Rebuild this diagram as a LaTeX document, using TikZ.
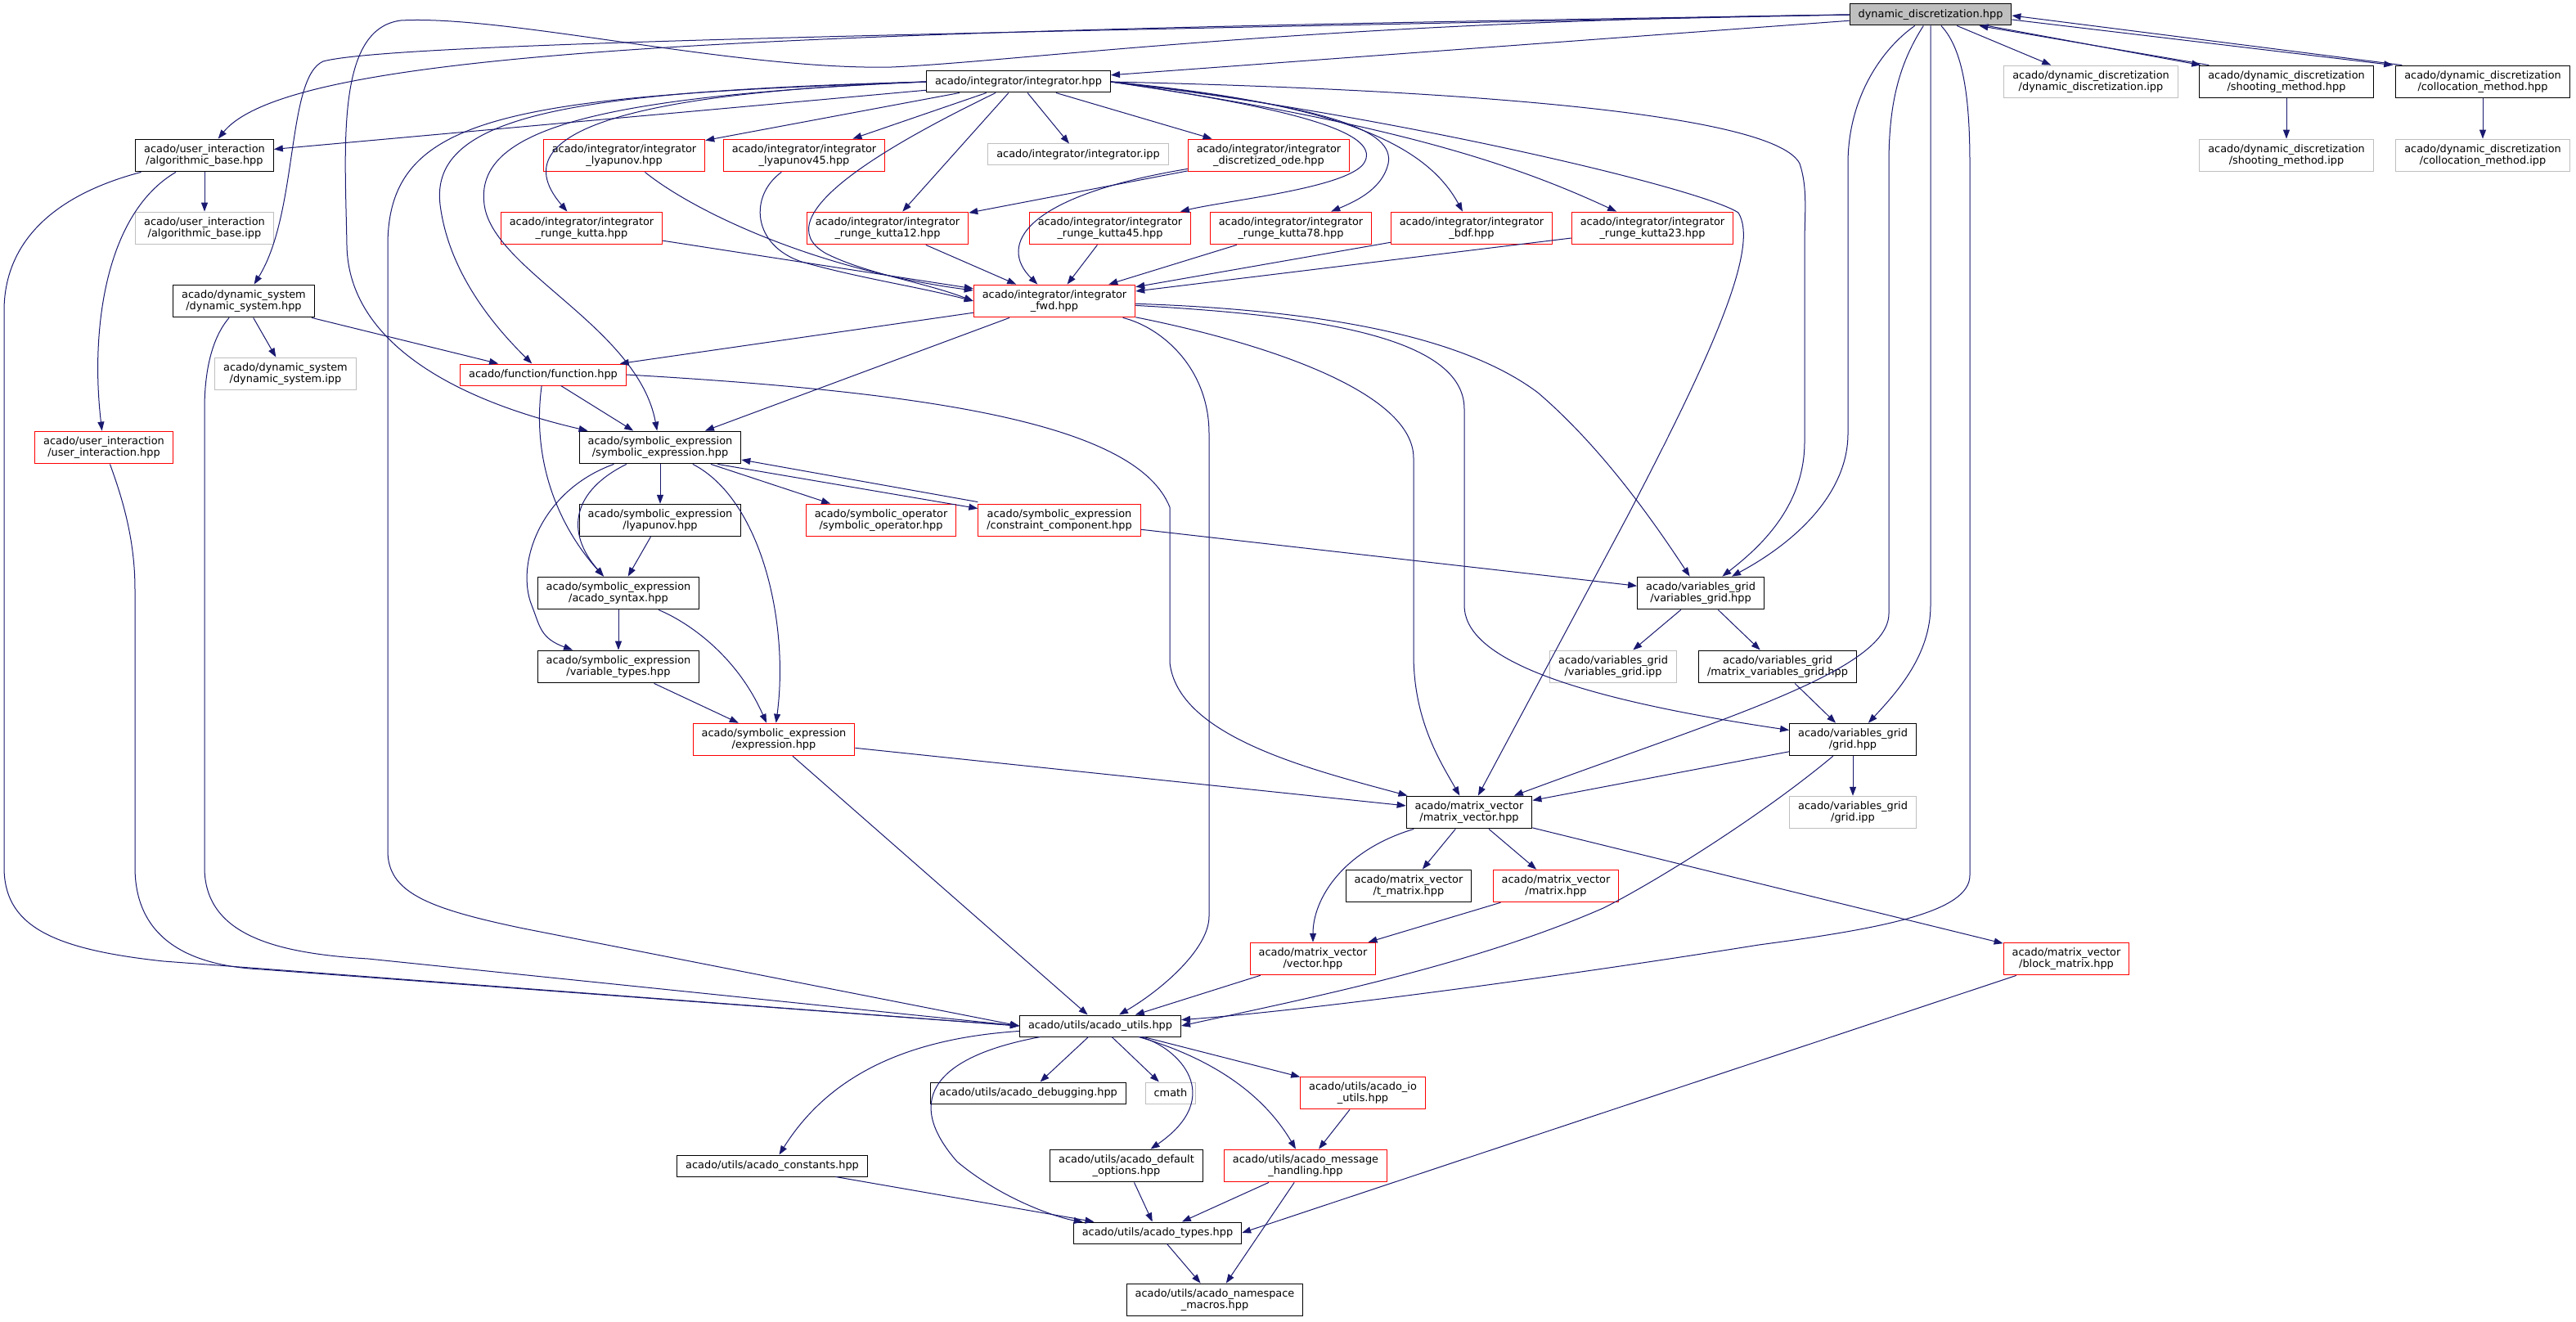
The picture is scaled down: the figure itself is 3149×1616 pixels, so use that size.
\documentclass[tikz,border=0pt]{standalone}
\usepackage{fontspec}
\setmainfont{DejaVu Sans}
\usetikzlibrary{arrows.meta}
\definecolor{edgeblue}{HTML}{191970}
\definecolor{boxred}{HTML}{FF0000}
\definecolor{boxgray}{HTML}{BFBFBF}

\begin{document}
\begin{tikzpicture}[x=1pt,y=-1pt,font=\fontsize{12.9}{14.4}\selectfont,
  file/.style={draw=black,line width=1pt,fill=white,align=center,inner xsep=10.5pt,inner ysep=6.3pt,minimum height=26pt},
  redfile/.style={file,draw=boxred},
  ipp/.style={file,draw=boxgray},
  mainfile/.style={file,fill=boxgray},
  inc/.style={draw=edgeblue,line width=1pt,-{Triangle[length=11pt,width=8pt]}}]
  \path[fill=white,use as bounding box] (0,0) rectangle (3149,1616);
  % top
  \node[mainfile] (dd) at (2360,18) {dynamic\_discretization.hpp};
  \node[ipp] (ddipp) at (2556,100) {acado/dynamic\_discretization\\/dynamic\_discretization.ipp};
  \node[file] (shoot) at (2795,100) {acado/dynamic\_discretization\\/shooting\_method.hpp};
  \node[file] (colloc) at (3035,100) {acado/dynamic\_discretization\\/collocation\_method.hpp};
  \node[ipp] (shootipp) at (2795,190) {acado/dynamic\_discretization\\/shooting\_method.ipp};
  \node[ipp] (collocipp) at (3035,190) {acado/dynamic\_discretization\\/collocation\_method.ipp};
  \node[file] (integ) at (1245,100) {acado/integrator/integrator.hpp};
  % integrators
  \node[file] (algb) at (250,190) {acado/user\_interaction\\/algorithmic\_base.hpp};
  \node[ipp] (algbipp) at (250,279) {acado/user\_interaction\\/algorithmic\_base.ipp};
  \node[redfile] (ilyap) at (763,190) {acado/integrator/integrator\\\_lyapunov.hpp};
  \node[redfile] (ilyap45) at (983,190) {acado/integrator/integrator\\\_lyapunov45.hpp};
  \node[ipp] (integipp) at (1318,189) {acado/integrator/integrator.ipp};
  \node[redfile] (dode) at (1551,190) {acado/integrator/integrator\\\_discretized\_ode.hpp};
  \node[redfile] (rk) at (711,279) {acado/integrator/integrator\\\_runge\_kutta.hpp};
  \node[redfile] (rk12) at (1085,279) {acado/integrator/integrator\\\_runge\_kutta12.hpp};
  \node[redfile] (rk45) at (1357,279) {acado/integrator/integrator\\\_runge\_kutta45.hpp};
  \node[redfile] (rk78) at (1578,279) {acado/integrator/integrator\\\_runge\_kutta78.hpp};
  \node[redfile] (bdf) at (1799,279) {acado/integrator/integrator\\\_bdf.hpp};
  \node[redfile] (rk23) at (2020,279) {acado/integrator/integrator\\\_runge\_kutta23.hpp};
  \node[redfile] (fwd) at (1289,368) {acado/integrator/integrator\\\_fwd.hpp};
  \node[file] (dsys) at (298,368) {acado/dynamic\_system\\/dynamic\_system.hpp};
  \node[ipp] (dsysipp) at (349,457) {acado/dynamic\_system\\/dynamic\_system.ipp};
  \node[redfile] (func) at (664,458) {acado/function/function.hpp};
  \node[redfile] (uint) at (127,547) {acado/user\_interaction\\/user\_interaction.hpp};
  % symbolic expressions
  \node[file] (symexpr) at (807,547) {acado/symbolic\_expression\\/symbolic\_expression.hpp};
  \node[file] (slyap) at (807,636) {acado/symbolic\_expression\\/lyapunov.hpp};
  \node[redfile] (symop) at (1077,636) {acado/symbolic\_operator\\/symbolic\_operator.hpp};
  \node[redfile] (constr) at (1295,636) {acado/symbolic\_expression\\/constraint\_component.hpp};
  \node[file] (syntax) at (756,725) {acado/symbolic\_expression\\/acado\_syntax.hpp};
  \node[file] (vtypes) at (756,815) {acado/symbolic\_expression\\/variable\_types.hpp};
  \node[redfile] (expr) at (946,904) {acado/symbolic\_expression\\/expression.hpp};
  % grids and matrices
  \node[file] (vgrid) at (2079,725) {acado/variables\_grid\\/variables\_grid.hpp};
  \node[ipp] (vgridipp) at (1972,815) {acado/variables\_grid\\/variables\_grid.ipp};
  \node[file] (mvgrid) at (2173,815) {acado/variables\_grid\\/matrix\_variables\_grid.hpp};
  \node[file] (grid) at (2265,904) {acado/variables\_grid\\/grid.hpp};
  \node[ipp] (gridipp) at (2265,993) {acado/variables\_grid\\/grid.ipp};
  \node[file] (mvec) at (1796,993) {acado/matrix\_vector\\/matrix\_vector.hpp};
  \node[file] (tmat) at (1722,1083) {acado/matrix\_vector\\/t\_matrix.hpp};
  \node[redfile] (mat) at (1902,1083) {acado/matrix\_vector\\/matrix.hpp};
  \node[redfile] (vec) at (1605,1172) {acado/matrix\_vector\\/vector.hpp};
  \node[redfile] (bmat) at (2526,1172) {acado/matrix\_vector\\/block\_matrix.hpp};
  % utils
  \node[file] (utils) at (1345,1254) {acado/utils/acado\_utils.hpp};
  \node[file] (dbg) at (1257,1336) {acado/utils/acado\_debugging.hpp};
  \node[ipp] (cmath) at (1431,1336) {cmath};
  \node[redfile] (ioutils) at (1666,1336) {acado/utils/acado\_io\\\_utils.hpp};
  \node[file] (consts) at (944,1425) {acado/utils/acado\_constants.hpp};
  \node[file] (defopt) at (1377,1425) {acado/utils/acado\_default\\\_options.hpp};
  \node[redfile] (msg) at (1596,1425) {acado/utils/acado\_message\\\_handling.hpp};
  \node[file] (types) at (1415,1507) {acado/utils/acado\_types.hpp};
  \node[file] (nsm) at (1485,1589) {acado/utils/acado\_namespace\\\_macros.hpp};

  % includes of dynamic_discretization.hpp
  \draw[inc] (dd) -- (integ);
  \draw[inc] (dd.west) .. controls (1000,38) and (360,55) .. (algb);
  \draw[inc] (dd.west) .. controls (1200,40) and (480,52) .. (395,75) .. controls (350,95) and (365,260) .. (dsys);
  \draw[inc] (dd.west) .. controls (1600,26) and (1250,75) .. (1090,82) .. controls (900,86) and (620,18) .. (490,25) .. controls (410,35) and (422,180) .. (424,300) .. controls (426,420) and (560,490) .. (symexpr);
  \draw[inc] (dd) -- (ddipp);
  \draw[inc] ([xshift=-30pt]dd.south east) -- ([xshift=2pt]shoot.north west);
  \draw[inc] ([xshift=12pt]shoot.north west) -- ([xshift=-40pt]dd.south east);
  \draw[inc] ([yshift=-6pt]dd.east) -- ([xshift=-3pt]colloc.north west);
  \draw[inc] ([xshift=8pt]colloc.north west) -- ([yshift=-1pt]dd.east);
  \draw[inc] (shoot) -- (shootipp);
  \draw[inc] (colloc) -- (collocipp);
  \draw[inc] (dd) .. controls (2300,60) and (2259,120) .. (2259,200) -- (2259,530) .. controls (2259,600) and (2200,660) .. (vgrid);
  \draw[inc] (dd) .. controls (2320,80) and (2309,130) .. (2309,200) -- (2309,750) .. controls (2309,820) and (2100,880) .. (mvec);
  \draw[inc] (dd) -- (2360,740) .. controls (2360,800) and (2320,845) .. (grid);
  \draw[inc] (dd) .. controls (2400,60) and (2408,120) .. (2408,200) -- (2408,1070) .. controls (2408,1115) and (2300,1135) .. (2150,1155) .. controls (1900,1195) and (1600,1235) .. (utils);

  % includes of integrator.hpp
  \draw[inc] (integ) -- (algb);
  \draw[inc] (integ) -- (ilyap);
  \draw[inc] (integ) -- (ilyap45);
  \draw[inc] (integ) -- (integipp);
  \draw[inc] (integ) -- (dode);
  \draw[inc] (integ) -- (rk12);
  \draw[inc] (integ.west) .. controls (820,112) and (600,150) .. (rk);
  \draw[inc] (integ.west) .. controls (700,112) and (525,140) .. (538,250) .. controls (548,330) and (600,395) .. (func);
  \draw[inc] (integ.west) .. controls (720,118) and (580,160) .. (592,250) .. controls (602,330) and (780,400) .. (symexpr);
  \draw[inc] (integ.west) .. controls (620,118) and (474,140) .. (474,300) -- (474,1040) .. controls (474,1090) and (520,1110) .. (640,1135) -- (utils.west);
  \draw[inc] (integ) .. controls (1090,175) and (930,265) .. (1010,310) .. controls (1060,335) and (1130,345) .. (fwd.west);
  \draw[inc] (integ.east) .. controls (1600,135) and (1690,165) .. (1667,200) .. controls (1645,230) and (1500,245) .. (rk45);
  \draw[inc] (integ.east) .. controls (1630,130) and (1705,160) .. (1697,200) .. controls (1690,230) and (1660,245) .. (rk78);
  \draw[inc] (integ.east) .. controls (1620,125) and (1740,170) .. (bdf);
  \draw[inc] (integ.east) .. controls (1700,150) and (1850,200) .. (rk23);
  \draw[inc] (integ.east) .. controls (1800,110) and (2170,140) .. (2200,200) .. controls (2210,230) and (2206,260) .. (2206,300) -- (2206,540) .. controls (2206,620) and (2150,670) .. (vgrid);
  \draw[inc] (integ.east) .. controls (1700,140) and (2080,230) .. (2125,260) .. controls (2150,300) and (2100,420) .. (1990,630) -- (mvec);

  % integrator family
  \draw[inc] (rk) -- (fwd);
  \draw[inc] (ilyap) .. controls (850,260) and (1000,330) .. (fwd);
  \draw[inc] (ilyap45) .. controls (915,240) and (920,300) .. (980,320) .. controls (1050,340) and (1120,350) .. (fwd.west);
  \draw[inc] (rk12) -- (fwd);
  \draw[inc] (rk45) -- (fwd);
  \draw[inc] (rk78) -- (fwd);
  \draw[inc] (bdf) -- (fwd);
  \draw[inc] (rk23) -- (fwd);
  \draw[inc] (dode) -- (rk12);
  \draw[inc] (dode) .. controls (1250,240) and (1220,300) .. (fwd);
  \draw[inc] (fwd) -- (func);
  \draw[inc] (fwd) -- (symexpr);
  \draw[inc] (fwd) .. controls (1420,400) and (1478,450) .. (1478,530) -- (1478,1120) .. controls (1478,1160) and (1420,1210) .. (utils);
  \draw[inc] (fwd) .. controls (1550,420) and (1728,480) .. (1728,560) -- (1728,800) .. controls (1728,880) and (1760,930) .. (mvec);
  \draw[inc] (fwd) .. controls (1600,385) and (1790,410) .. (1790,500) -- (1790,740) .. controls (1790,800) and (1900,850) .. (grid);
  \draw[inc] (fwd) .. controls (1650,380) and (1800,420) .. (1880,480) .. controls (1950,540) and (2010,620) .. (vgrid);

  % user interaction, system, function
  \draw[inc] (algb) -- (algbipp);
  \draw[inc] (algb) .. controls (130,260) and (110,400) .. (uint);
  \draw[inc] (algb) .. controls (60,240) and (5,300) .. (5,380) -- (5,1060) .. controls (5,1130) and (60,1160) .. (200,1175) -- (utils.west);
  \draw[inc] (uint) .. controls (150,610) and (165,660) .. (165,720) -- (165,1060) .. controls (165,1140) and (220,1180) .. (320,1185) -- (utils.west);
  \draw[inc] (dsys) -- (dsysipp);
  \draw[inc] (dsys) -- (func);
  \draw[inc] (dsys) .. controls (270,400) and (250,430) .. (250,500) -- (250,1060) .. controls (250,1140) and (330,1165) .. (450,1172) -- (utils.west);
  \draw[inc] (func) -- (symexpr);
  \draw[inc] (func) .. controls (650,560) and (680,640) .. (syntax);
  \draw[inc] (func.east) .. controls (1150,480) and (1390,520) .. (1430,620) -- (1430,810) .. controls (1440,900) and (1600,940) .. (mvec);

  % symbolic expressions
  \draw[inc] (symexpr) -- (slyap);
  \draw[inc] (symexpr) .. controls (700,600) and (690,650) .. (syntax);
  \draw[inc] (symexpr) .. controls (660,600) and (630,690) .. (650,740) .. controls (660,765) and (660,780) .. (vtypes);
  \draw[inc] (symexpr) -- (symop);
  \draw[inc] ([xshift=-29pt]symexpr.south east) -- ([yshift=-6pt]constr.north west);
  \draw[inc] ([yshift=2pt]constr.north west) -- ([yshift=-15pt]symexpr.east);
  \draw[inc] (symexpr) .. controls (930,610) and (965,760) .. (expr);
  \draw[inc] (slyap) -- (syntax);
  \draw[inc] (syntax) -- (vtypes);
  \draw[inc] (syntax) .. controls (840,760) and (900,800) .. (expr);
  \draw[inc] (vtypes) -- (expr);
  \draw[inc] (expr) -- (mvec);
  \draw[inc] (expr) -- (utils);
  \draw[inc] (constr) -- (vgrid);

  % grids and matrices
  \draw[inc] (vgrid) -- (vgridipp);
  \draw[inc] (vgrid) -- (mvgrid);
  \draw[inc] (mvgrid) -- (grid);
  \draw[inc] (grid) -- (gridipp);
  \draw[inc] (grid) -- (mvec);
  \draw[inc] (grid) .. controls (2150,1000) and (2020,1080) .. (1960,1110) .. controls (1800,1180) and (1600,1220) .. (utils.east);
  \draw[inc] (mvec) -- (tmat);
  \draw[inc] (mvec) -- (mat);
  \draw[inc] (mvec) .. controls (1640,1040) and (1605,1100) .. (vec);
  \draw[inc] (mvec) -- (bmat);
  \draw[inc] (mat) -- (vec);
  \draw[inc] (vec) -- (utils);
  \draw[inc] (bmat) -- (types.east);

  % utils
  \draw[inc] (utils) -- (dbg);
  \draw[inc] (utils) -- (cmath);
  \draw[inc] (utils) .. controls (1100,1270) and (1010,1320) .. (consts);
  \draw[inc] (utils) .. controls (1150,1290) and (1100,1340) .. (1170,1420) .. controls (1230,1470) and (1300,1490) .. (types);
  \draw[inc] (utils) .. controls (1440,1280) and (1500,1340) .. (defopt);
  \draw[inc] (utils) .. controls (1470,1290) and (1540,1330) .. (msg);
  \draw[inc] (utils) -- (ioutils);
  \draw[inc] (ioutils) -- (msg);
  \draw[inc] (consts) -- (types);
  \draw[inc] (defopt) -- (types);
  \draw[inc] (msg) -- (types);
  \draw[inc] (msg) -- (nsm);
  \draw[inc] (types) -- (nsm);
\end{tikzpicture}
\end{document}
